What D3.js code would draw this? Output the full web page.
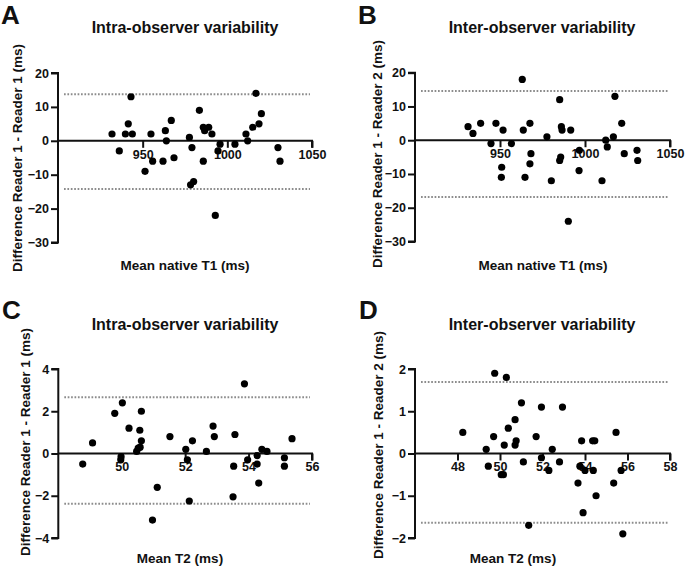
<!DOCTYPE html>
<html>
<head>
<meta charset="utf-8">
<script src="https://cdn.jsdelivr.net/npm/d3@7"></script>
<style>
  html, body { margin: 0; padding: 0; background: #fff; }
  svg { display: block; }
  text { font-family: "Liberation Sans", Arial, sans-serif; font-weight: bold; fill: #111; }
</style>
</head>
<body>
<svg id="chart" width="685" height="569"></svg>
<script>
// ---------- Data ----------
const panelLetters = ["A", "B", "C", "D"];
const panelTitles = ["Intra-observer variability", "Inter-observer variability", "Intra-observer variability", "Inter-observer variability"];
const yAxisTitles = ["Difference Reader 1 - Reader 1 (ms)", "Difference Reader 1 - Reader 2 (ms)", "Difference Reader 1 - Reader 1 (ms)", "Difference Reader 1 - Reader 2 (ms)"];
const xAxisTitles = ["Mean native T1 (ms)", "Mean native T1 (ms)", "Mean T2 (ms)", "Mean T2 (ms)"];

const xTicksT1 = [950, 1000, 1050];
const yTicksT1 = [20, 10, 0, -10, -20, -30];
const xTicksC = [50, 52, 54, 56];
const yTicksC = [4, 2, 0, -2, -4];
const xTicksD = [48, 50, 52, 54, 56, 58];
const yTicksD = [2, 1, 0, -1, -2];

// Panel A: intra-observer native T1
const aMean = [931.9, 936.2, 939.8, 941.5, 943.1, 943.9, 951.4, 954.9, 955.9, 962.0, 963.4, 964.0, 966.9, 968.5, 977.6, 978.3, 979.1, 980.1, 983.5, 985.8, 985.8, 986.6, 989.0, 990.9, 992.9, 994.5, 995.7, 1004.5, 1011.0, 1012.0, 1015.0, 1016.9, 1018.7, 1020.1, 1029.9, 1031.1];
const aDiff = [2, -3, 2, 5, 13, 2, -9, 2, -6, -6, 3, 0, 6, -5, 1, -13, -2, -12, 9, 4, -6, 3, 4, 2, -22, -3, -1, -1, 2, 0, 4, 14, 5, 8, -2, -6];
const aLimits = [13.7, -14.2];

// Panel B: inter-observer native T1
const bMean = [931.2, 934.1, 938.6, 944.7, 947.6, 951.0, 950.8, 951.8, 956.7, 963.1, 963.7, 964.7, 967.6, 968.2, 967.6, 977.6, 980.2, 985.1, 986.1, 986.5, 985.7, 985.1, 991.6, 996.7, 996.5, 990.2, 1010.0, 1012.2, 1013.1, 1016.7, 1017.6, 1021.6, 1023.1, 1030.6, 1031.0];
const bDiff = [4, 2, 5, -1, 5, -8, -11, 3, -1, 18, 3, -11, 5, -4, -7, 1, -12, 12, 4, 3, -5, -6, 3, -3, -9, -24, -12, 0, -2, 1, 13, 5, -4, -3, -6];
const bLimits = [14.6, -16.8];

// Panel C: intra-observer T2
const cMean = [48.77, 49.08, 49.78, 49.98, 49.97, 50.02, 50.23, 50.47, 50.52, 50.57, 50.58, 50.62, 50.62, 51.12, 50.97, 51.52, 52.02, 52.07, 52.13, 52.23, 52.67, 52.88, 52.92, 53.51, 53.53, 53.57, 53.87, 53.97, 54.27, 54.27, 54.32, 54.42, 54.58, 55.13, 55.13, 55.37];
const cDiff = [-0.5, 0.5, 1.9, -0.15, -0.3, 2.4, 1.2, 0.1, 0.25, 1.1, 0.3, 0.6, 2.0, -1.6, -3.15, 0.8, 0.2, -0.3, -2.25, 0.6, 0.1, 1.3, 0.8, -2.05, -0.6, 0.9, 3.3, -0.3, -0.1, -0.5, -1.4, 0.2, 0.1, -0.2, -0.6, 0.7];
const cLimits = [2.66, -2.38];

// Panel D: inter-observer T2
const dMean = [48.25, 49.35, 49.45, 49.70, 49.75, 50.06, 50.16, 50.20, 50.30, 50.39, 50.71, 50.76, 50.71, 51.01, 51.10, 51.35, 51.70, 51.95, 51.95, 52.30, 52.46, 52.80, 52.94, 53.67, 53.76, 53.84, 53.91, 54.00, 54.36, 54.46, 54.39, 54.52, 55.35, 55.46, 55.70, 55.78];
const dDiff = [0.5, 0.1, -0.3, 0.4, 1.9, -0.5, -0.5, 0.2, 1.8, 0.6, 0.2, 0.3, 0.8, 1.2, -0.2, -1.7, 0.4, -0.1, 1.1, -0.4, 0.1, -0.2, 1.1, -0.7, -0.3, 0.3, -1.4, -0.4, 0.3, 0.3, -0.4, -1.0, -0.7, 0.5, -0.4, -1.9];
const dLimits = [1.69, -1.64];

// ---------- Layout ----------
const panels = [
  { x: aMean, y: aDiff, lim: aLimits, xDom: [900, 1050], yDom: [-30, 20], xTicks: xTicksT1, yTicks: yTicksT1,
    xr: [58, 312], yr: [242.5, 73], letterPos: [1, 24], titlePos: [185, 33], xtPos: [185, 270], ytPos: [22, 158] },
  { x: bMean, y: bDiff, lim: bLimits, xDom: [900, 1050], yDom: [-30, 20], xTicks: xTicksT1, yTicks: yTicksT1,
    xr: [415, 670], yr: [241.5, 72.7], letterPos: [358, 24], titlePos: [542, 33], xtPos: [543, 270], ytPos: [382, 154] },
  { x: cMean, y: cDiff, lim: cLimits, xDom: [48, 56], yDom: [-4, 4], xTicks: xTicksC, yTicks: yTicksC,
    xr: [58.3, 312], yr: [538, 369], letterPos: [2, 319], titlePos: [185, 330], xtPos: [180, 563], ytPos: [30, 442] },
  { x: dMean, y: dDiff, lim: dLimits, xDom: [46, 58], yDom: [-2, 2], xTicks: xTicksD, yTicks: yTicksD,
    xr: [415, 670], yr: [538, 369], letterPos: [359, 319], titlePos: [542, 330], xtPos: [513, 563], ytPos: [383, 445] }
];

const svg = d3.select("#chart");

panels.forEach((p, i) => {
  const g = svg.append("g");
  const xs = d3.scaleLinear().domain(p.xDom).range(p.xr);
  const ys = d3.scaleLinear().domain(p.yDom).range(p.yr);

  // Panel letter
  g.append("text").attr("x", p.letterPos[0]).attr("y", p.letterPos[1])
    .attr("font-size", 26).text(panelLetters[i]);
  // Title
  g.append("text").attr("x", p.titlePos[0]).attr("y", p.titlePos[1])
    .attr("text-anchor", "middle").attr("font-size", 16).text(panelTitles[i]);
  // X axis title
  g.append("text").attr("x", p.xtPos[0]).attr("y", p.xtPos[1])
    .attr("text-anchor", "middle").attr("font-size", 13.5).text(xAxisTitles[i]);
  // Y axis title
  g.append("text").attr("transform", `translate(${p.ytPos[0]},${p.ytPos[1]}) rotate(-90)`)
    .attr("text-anchor", "middle").attr("font-size", 13.5).text(yAxisTitles[i]);

  // Limits of agreement (dotted)
  g.selectAll("line.lim").data(p.lim).enter().append("line")
    .attr("class", "lim")
    .attr("x1", p.xr[0] + 6).attr("x2", p.xr[1] - 2)
    .attr("y1", d => ys(d)).attr("y2", d => ys(d))
    .attr("stroke", "#8c8c8c").attr("stroke-width", 2)
    .attr("stroke-dasharray", "1.7,1.7");

  // Y axis
  const yAxis = d3.axisLeft(ys).tickValues(p.yTicks).tickSize(7).tickPadding(2).tickFormat(d3.format("d"));
  const yg = g.append("g").attr("transform", `translate(${p.xr[0]},0)`).call(yAxis);
  yg.select(".domain").attr("d", `M-7,${p.yr[1]}H0V${p.yr[0]}H-7`);

  // X axis at y = 0
  const xAxis = d3.axisBottom(xs).tickValues(p.xTicks).tickSize(7).tickPadding(2).tickFormat(d3.format("d"));
  const xg = g.append("g").attr("transform", `translate(0,${ys(0)})`).call(xAxis);
  xg.select(".domain").attr("d", `M${p.xr[0]},0H${p.xr[1]}V7`);

  [yg, xg].forEach(ax => {
    ax.select(".domain").attr("stroke", "#111").attr("stroke-width", 2).attr("fill", "none");
    ax.selectAll(".tick line").attr("stroke", "#111").attr("stroke-width", 2);
    ax.selectAll(".tick text").attr("font-size", 12.5).attr("font-family", "Liberation Sans, Arial, sans-serif")
      .attr("font-weight", "bold").attr("fill", "#111");
  });

  // Points
  g.selectAll("circle").data(p.x.map((v, k) => [v, p.y[k]])).enter().append("circle")
    .attr("cx", d => xs(d[0])).attr("cy", d => ys(d[1])).attr("r", 3.6).attr("fill", "#000");
});
</script>
</body>
</html>
